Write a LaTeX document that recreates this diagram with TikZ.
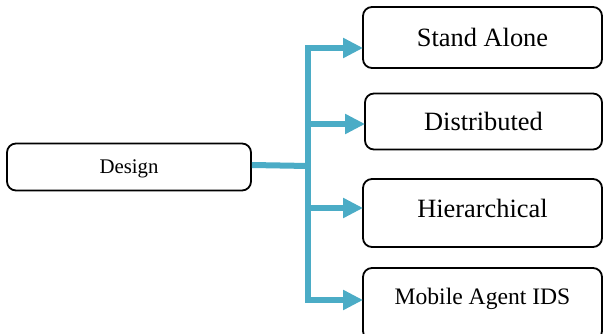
\documentclass[tikz,border=0pt]{standalone}
\usepackage{fontspec}
\setmainfont{Liberation Serif}
\usetikzlibrary{arrows.meta}
\definecolor{linkblue}{HTML}{4BACC6}
\tikzset{
  box/.style={draw=black, line width=1.8pt, rounded corners=9pt, fill=white,
    inner sep=0pt, align=center},
  bigtext/.style={font=\fontsize{26.4}{30}\selectfont},
  link/.style={draw=linkblue, line width=6pt},
  linkarrow/.style={link, -{Triangle[length=20pt,width=19pt]}, shorten >=-1pt}
}
\begin{document}
\begin{tikzpicture}[x=1pt, y=-1pt]
  \useasboundingbox (0,0) rectangle (603,334);
  \clip (0,0) rectangle (603,334);

  % source box
  \node[box, minimum width=244pt, minimum height=47pt, text depth=0pt,
        font=\fontsize{20.8}{24}\selectfont] (design) at (129,167) {Design};

  % target boxes
  \node[box, bigtext, minimum width=239pt, minimum height=61pt]
        (sa) at (482.5,37.5) {Stand Alone};
  \node[box, bigtext, minimum width=237pt, minimum height=56pt]
        (dist) at (483.5,121.5) {Distributed};
  \node[box, bigtext, minimum width=239pt, minimum height=68pt,
        text height=20pt, text depth=10pt]
        (hier) at (482.5,213) {Hierarchical};
  \node[box, font=\fontsize{23.6}{27}\selectfont, minimum width=239pt,
        minimum height=72pt, text height=15pt, text depth=15pt]
        (mob) at (482.5,304) {Mobile Agent IDS};

  % branch points on the trunk
  \coordinate (j0) at (308,166);
  \coordinate (j1) at (308,48);
  \coordinate (j2) at (308,124);
  \coordinate (j3) at (308,208);
  \coordinate (j4) at (308,300);

  % trunk and feeder
  \draw[link] (design.east |- 0,165) -- (j0);
  \draw[link, line cap=rect] (j1) -- (j4);

  % branches
  \draw[linkarrow] (j1) -- (j1 -| sa.west);
  \draw[linkarrow] (j2) -- (j2 -| dist.west);
  \draw[linkarrow] (j3) -- (j3 -| hier.west);
  \draw[linkarrow] (j4) -- (j4 -| mob.west);
\end{tikzpicture}
\end{document}
